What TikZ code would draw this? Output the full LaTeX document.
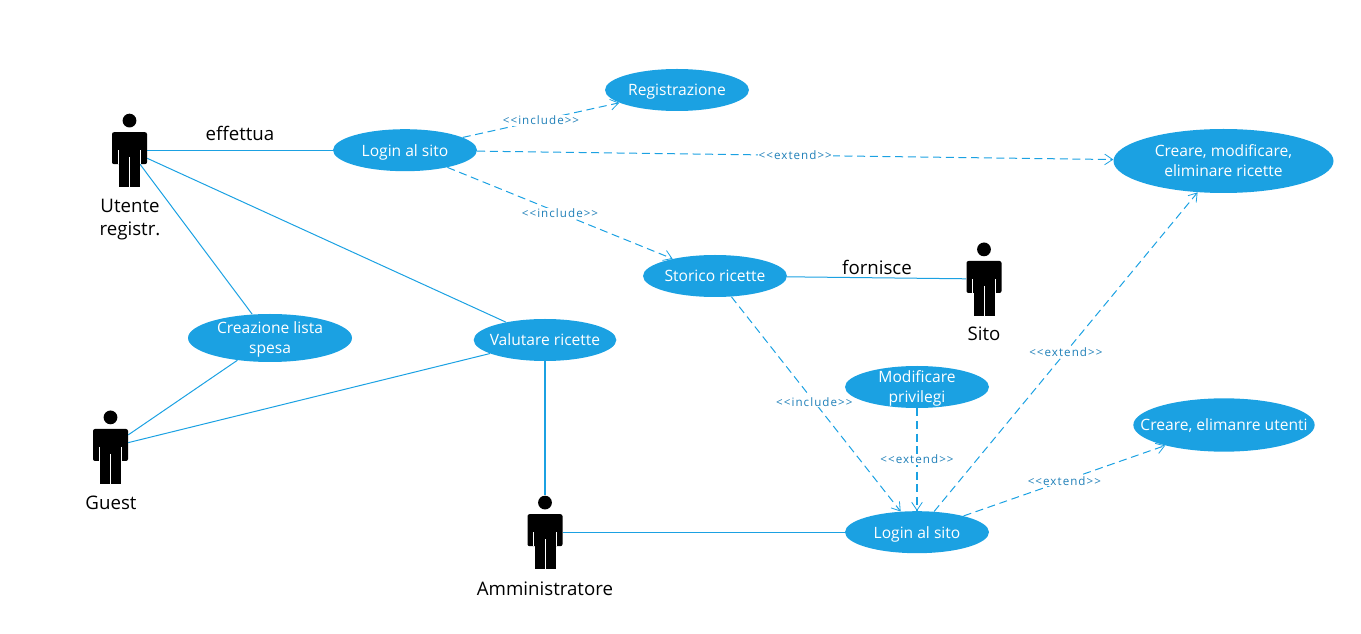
\documentclass[tikz,border=0pt]{standalone}
\usepackage{fontspec}
\setmainfont{Open Sans}
\newfontfamily\labfont[LetterSpace=9]{Open Sans}
\usetikzlibrary{shapes.geometric,arrows.meta}
\definecolor{ucblue}{HTML}{1BA1E2}
\definecolor{lablue}{HTML}{1E7FB8}
\pgfdeclarelayer{lines}
\pgfsetlayers{lines,main}
\tikzset{
  usecase/.style={ellipse,fill=ucblue,text=white,inner xsep=-40pt,inner ysep=-12pt,align=center,
    font=\fontsize{11.7}{15}\selectfont,text height=12pt,text depth=3pt},
  twolines/.style={text height=27.5pt,text depth=3.5pt},
  small/.style={usecase,minimum width=108pt,minimum height=31.5pt},
  actor/.style={rectangle,inner sep=0pt,minimum width=26.25pt,minimum height=55pt,
    path picture={
      \begin{scope}[shift={(path picture bounding box.center)}]
        \fill[black] (0,-29.6) circle[radius=6.9];
        \fill[black,rounded corners=1.5pt] (-17.5,14) -- (-17.5,-18) -- (17.5,-18) -- (17.5,14) -- cycle;
        \fill[black] (-10.5,0) rectangle (10.5,36.7);
        \draw[white,line width=.6pt] (0,7) -- (0,37) (-11.2,0) -- (-11.2,14) (11.2,0) -- (11.2,14);
      \end{scope}}},
  caption/.style={text=black,align=center,font=\fontsize{14}{17.2}\selectfont},
  assoc/.style={draw=ucblue,line width=.75pt},
  dep/.style={draw=ucblue,line width=.75pt,dash pattern=on 6pt off 3.5pt,
    -{Straight Barb[length=6pt,width=8pt,line width=.6pt]}},
  deplabel/.style={text=lablue,fill=white,inner sep=.8pt,font=\labfont\fontsize{8.7}{10}\selectfont},
  upright/.style={line width=.82pt}
}
\begin{document}
\begin{tikzpicture}[x=0.75pt,y=-0.75pt]
\useasboundingbox (0,0) rectangle (1361,634);
% use cases
\node[small] (reg) at (677,90) {Registrazione};
\node[small] (login) at (405,150.2) {Login al sito};
\node[usecase,twolines,minimum width=165pt,minimum height=48pt] (crea) at (1223.5,161) {Creare, modificare,\\eliminare ricette};
\node[small] (stor) at (715,276) {Storico ricette};
\node[usecase,twolines,minimum width=123pt,minimum height=36pt] (lista) at (270,338) {Creazione lista\\spesa};
\node[usecase,minimum width=107pt,minimum height=31.5pt] (val) at (545,340) {Valutare ricette};
\node[small,twolines] (mod) at (917,387) {Modificare\\privilegi};
\node[usecase,minimum width=136pt,minimum height=40pt] (ute) at (1224,425) {Creare, elimanre utenti};
\node[small] (login2) at (917,532.2) {Login al sito};
% actors
\node[actor] (ua) at (129.5,150.2) {};
\node[actor] (gu) at (110.5,447) {};
\node[actor] (ad) at (545,532.2) {};
\node[actor] (si) at (984,279) {};
% captions
\node[caption] (cua) at (130,220) {Utente\\registr.};
\node[caption] (cgu) at (111,503) {Guest};
\node[caption] (cad) at (545,589) {Amministratore};
\node[caption] (csi) at (984,334) {Sito};
\node[caption] (eff) at (240,133) {effettua};
\node[caption] (forn) at (877,267) {fornisce};
% connectors
\begin{pgfonlayer}{lines}
\draw[assoc] (ua) -- (login);
\draw[assoc] (ua.center) -- (lista);
\draw[assoc] (ua) -- (val);
\draw[assoc] (gu) -- (lista);
\draw[assoc] (gu) -- (val);
\draw[assoc,upright] (val) -- (ad);
\draw[assoc] (ad) -- (login2);
\draw[assoc] (stor) -- (si);
\draw[dep] (login) -- node[deplabel,pos=.5] {<{}<include>{}>} (reg);
\draw[dep] (login) -- node[deplabel,pos=.5] {<{}<extend>{}>} (crea);
\draw[dep] (login) -- node[deplabel,pos=.5] {<{}<include>{}>} (stor);
\draw[dep] (stor) -- node[deplabel,pos=.49] {<{}<include>{}>} (login2);
\draw[dep,upright] (mod) -- node[deplabel,pos=.5] {<{}<extend>{}>} (login2);
\draw[dep] (login2) -- node[deplabel,pos=.5] {<{}<extend>{}>} (crea);
\draw[dep] (login2) -- node[deplabel,pos=.5] {<{}<extend>{}>} (ute);
\end{pgfonlayer}
\end{tikzpicture}
\end{document}
